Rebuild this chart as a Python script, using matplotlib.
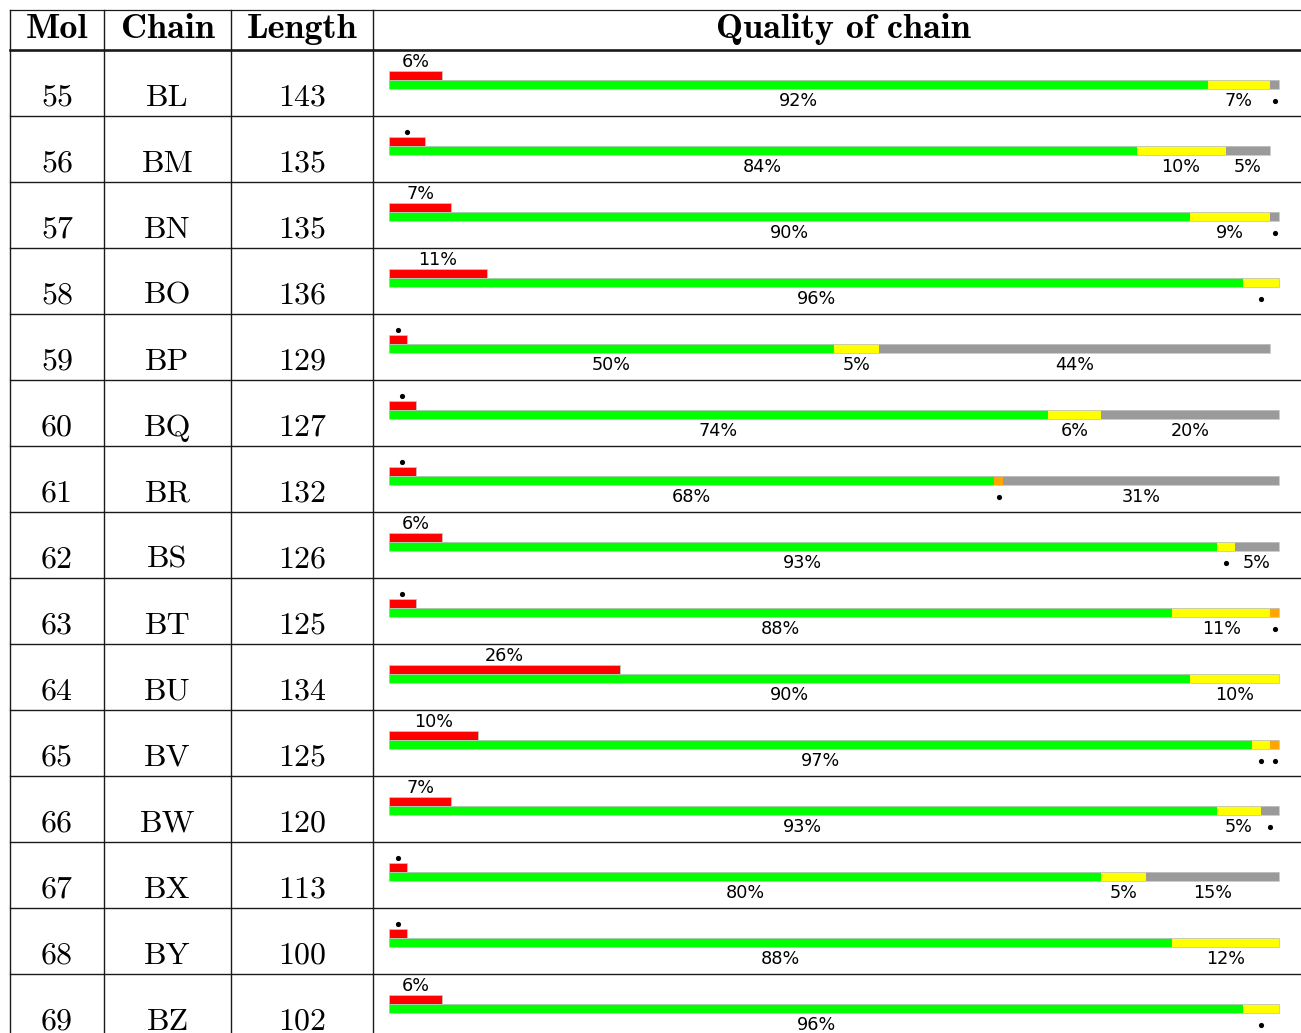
import matplotlib.pyplot as plt

# table rows
mols = [55, 56, 57, 58, 59, 60, 61, 62, 63, 64, 65, 66, 67, 68, 69]
chains = ['BL', 'BM', 'BN', 'BO', 'BP', 'BQ', 'BR', 'BS', 'BT', 'BU',
          'BV', 'BW', 'BX', 'BY', 'BZ']
lengths = [143, 135, 135, 136, 129, 127, 132, 126, 125, 134, 125, 120, 113, 100, 102]

# quality of chain, percent of residues
red_pct = [6, 4, 7, 11, 2, 3, 3, 6, 3, 26, 10, 7, 2, 2, 6]
green_pct = [92, 84, 90, 96, 50, 74, 68, 93, 88, 90, 97, 93, 80, 88, 96]
yellow_pct = [7, 10, 9, 4, 5, 6, 0, 2, 11, 10, 2, 5, 5, 12, 4]
orange_pct = [0, 0, 0, 0, 0, 0, 1, 0, 1, 0, 1, 0, 0, 0, 0]
grey_pct = [1, 5, 1, 0, 44, 20, 31, 5, 0, 0, 0, 2, 15, 0, 0]

headers = ['Mol', 'Chain', 'Length', 'Quality of chain']

W, H = 1301, 1033
ROW_H = 66
TOP = 50
col_x = [10, 104, 231, 373]
col_centers = [57, 167.5, 302, 843]
BAR_X0, BAR_PX = 389, 8.9  # 0% position and pixels per percent

fig = plt.figure(figsize=(W / 100, H / 100), dpi=100)

# table axes in pixel units
ax = fig.add_axes([0, 0, 1, 1])
ax.set_xlim(0, W)
ax.set_ylim(H, 0)
ax.axis('off')

# bar axes: x in percent, y in rows
bx = fig.add_axes([0, 0, 1, 1])
bx.set_xlim(-BAR_X0 / BAR_PX, (W - BAR_X0) / BAR_PX)
bx.set_ylim((H - TOP) / ROW_H, -TOP / ROW_H)
bx.axis('off')

line_col = '#1a1a1a'
ax.plot([col_x[0], W], [10, 10], color=line_col, lw=0.9)
ax.plot([col_x[0], W], [TOP, TOP], color=line_col, lw=1.9)
for i in range(1, len(mols)):
    y = TOP + i * ROW_H
    ax.plot([col_x[0], W], [y, y], color=line_col, lw=1.0)
for x in col_x:
    ax.plot([x, x], [10, H], color=line_col, lw=1.0)

for name, cx in zip(headers, col_centers):
    ax.text(cx, 38, name, ha='center', va='baseline', fontsize=26,
            family='cmb10')

for i, (m, c, n) in enumerate(zip(mols, chains, lengths)):
    y = TOP + i * ROW_H + 55.5
    for val, cx in zip([str(m), c, str(n)], col_centers[:3]):
        ax.text(cx, y, val, ha='center', va='baseline', fontsize=23,
                family='cmr10')

rows = list(range(len(mols)))
bar_h = 9 / ROW_H
red_y = [r + 25 / ROW_H for r in rows]
stack_y = [r + 34 / ROW_H for r in rows]
edge = '#c4c4c4'

bx.barh(red_y, red_pct, height=bar_h, left=0, color='#ff0000',
        edgecolor=edge, linewidth=0.6)

segments = [(green_pct, '#00ff00'), (yellow_pct, '#ffff00'),
            (orange_pct, '#ffa500'), (grey_pct, '#9a9a9a')]
lefts = [0] * len(rows)
for vals, col in segments:
    bx.barh(stack_y, vals, height=bar_h, left=lefts, color=col, linewidth=0)
    for r in rows:
        v = vals[r]
        if v > 0:
            cx = lefts[r] + v / 2
            if v >= 5:
                bx.text(cx, r + 55.5 / ROW_H, f'{v}%', ha='center',
                        va='baseline', fontsize=12.7, family='DejaVu Sans')
            else:
                bx.scatter([cx], [r + 50.7 / ROW_H], s=14, color='black',
                           linewidths=0, zorder=3)
    lefts = [a + b for a, b in zip(lefts, vals)]

# thin outline around the stacked bar
bx.barh(stack_y, lefts, height=bar_h, left=0, fill=False,
        edgecolor=edge, linewidth=0.6)

for r in rows:
    v = red_pct[r]
    if v >= 5:
        bx.text(v / 2, r + 16.7 / ROW_H, f'{v}%', ha='center',
                va='baseline', fontsize=12.7, family='DejaVu Sans')
    else:
        bx.scatter([v / 2], [r + 16.3 / ROW_H], s=14, color='black',
                   linewidths=0, zorder=3)

fig.savefig('out.png', dpi=100)
